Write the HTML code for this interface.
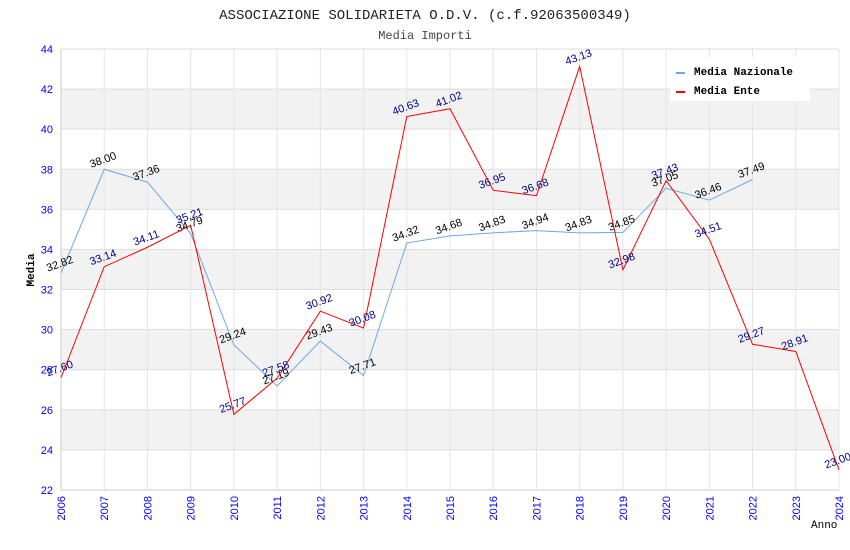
<!DOCTYPE html>
<html><head><meta charset="utf-8"><style>body{margin:0;background:#fff}svg{display:block}</style></head>
<body>
<svg id="c" width="850" height="550" xmlns="http://www.w3.org/2000/svg">
<text x="425" y="19" text-anchor="middle" font-family="Liberation Mono, monospace" font-size="14" fill="#222">ASSOCIAZIONE SOLIDARIETA O.D.V. (c.f.92063500349)</text>
<text x="425" y="39" text-anchor="middle" font-family="Liberation Mono, monospace" font-size="12" fill="#444">Media Importi</text>
<text x="34" y="270" text-anchor="middle" transform="rotate(-90 34 270)" font-family="Liberation Mono, monospace" font-size="11" font-weight="bold" fill="#000">Media</text>
<text x="811" y="528" font-family="Liberation Mono, monospace" font-size="11" fill="#000">Anno</text>
<g id="g"></g>
</svg>
<script>
const years=[2006,2007,2008,2009,2010,2011,2012,2013,2014,2015,2016,2017,2018,2019,2020,2021,2022,2023,2024];
const nazionale=[32.82,38.00,37.36,34.79,29.24,27.19,29.43,27.71,34.32,34.68,34.83,34.94,34.83,34.85,37.05,36.46,37.49];
const ente=[27.60,33.14,34.11,35.21,25.77,27.58,30.92,30.08,40.63,41.02,36.95,36.68,43.13,32.98,37.43,34.51,29.27,28.91,23.00];
const yTicks=[22,24,26,28,30,32,34,36,38,40,42,44];
const L=61,R=839,T=49,B=490,yMin=22,yMax=44;
const X=i=>L+(R-L)*i/(years.length-1);
const Y=v=>B-(v-yMin)/(yMax-yMin)*(B-T);
const g=document.getElementById('g');
const NS='http://www.w3.org/2000/svg';
function mk(t,a,p){const e=document.createElementNS(NS,t);for(const k in a)e.setAttribute(k,a[k]);(p||g).appendChild(e);return e;}
for(let k=0;k<yTicks.length-1;k++){
 if(k%2===1){const r=mk('rect',{x:L,y:Y(yTicks[k+1]),width:R-L,height:Y(yTicks[k])-Y(yTicks[k+1]),fill:'#f2f2f2'});
 
 }
}
yTicks.forEach(v=>{
 const l=mk('line',{x1:L,x2:R,y1:Y(v),y2:Y(v),stroke:'#ddd','stroke-width':1});
 
 
 const t=mk('text',{x:L-8,y:Y(v)+4,'text-anchor':'end','font-family':'Liberation Sans, sans-serif','font-size':11,fill:'#00f'});
 t.textContent=v;
 
 
});
years.forEach((yr,i)=>{
 const l=mk('line',{x1:X(i),x2:X(i),y1:T,y2:B,stroke:'#e4e4e4','stroke-width':1});
 
 
 const t=mk('text',{x:X(i)+4,y:B+6,'text-anchor':'end',transform:`rotate(-90 ${X(i)+4} ${B+6})`,'font-family':'Liberation Sans, sans-serif','font-size':11,fill:'#00f'});
 t.textContent=yr;
 
 
});
const ax=mk('path',{d:`M${L} ${T}V${B}H${R}`,fill:'none',stroke:'#ccc'});


function series(vals,col,lcol,name){
 const p=mk('polyline',{points:vals.map((v,i)=>X(i)+','+Y(v)).join(' '),fill:'none',stroke:col,'stroke-width':1});
 
 
 vals.forEach((v,i)=>{
  const x=X(i),y=Y(v)-6;
  const t=mk('text',{x:x,y:y,'text-anchor':'middle',transform:`rotate(-20 ${x} ${y})`,'font-family':'Liberation Sans, sans-serif','font-size':11,fill:lcol});
  t.textContent=v.toFixed(2);
  
  
 });
}
series(nazionale,'#6aa9e8','#000','nazionale');
series(ente,'#f00','#00008b','ente');
const lg=mk('g',{});


mk('rect',{x:670,y:57,width:140,height:44,fill:'#fff'},lg);
mk('rect',{x:676,y:72,width:9,height:2,fill:'#6aa9e8'},lg);
mk('rect',{x:676,y:91,width:9,height:2,fill:'#f00'},lg);
[['Media Nazionale',75],['Media Ente',94]].forEach(([s,y])=>{
 const t=mk('text',{x:694,y:y,'font-family':'Liberation Mono, monospace','font-size':11,'font-weight':'bold',fill:'#000'},lg);
 t.textContent=s;
 
 
});
</script>
</body></html>
